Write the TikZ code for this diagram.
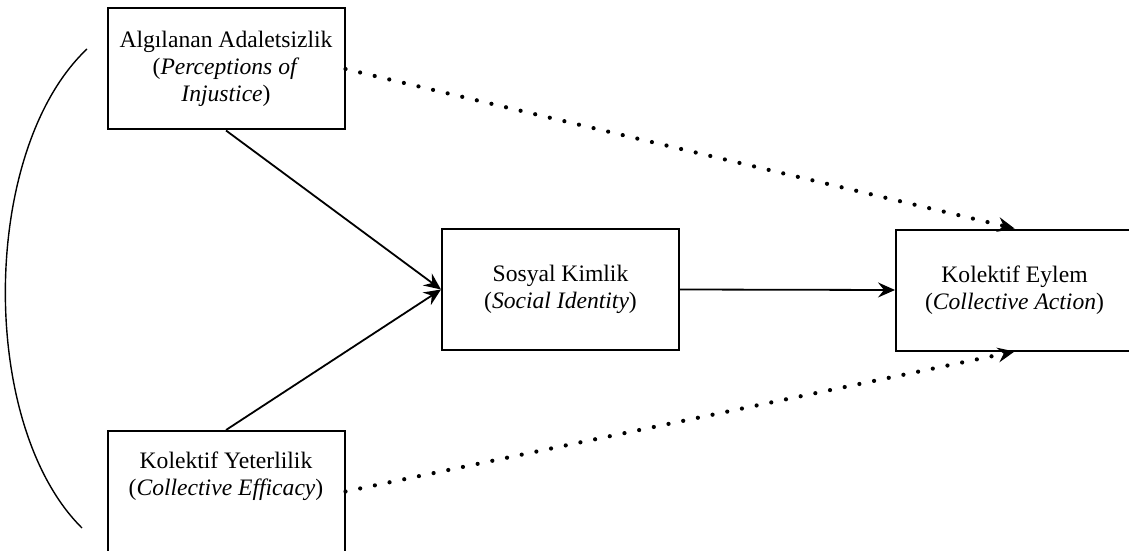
\documentclass[tikz,border=0pt]{standalone}
\usepackage{fontspec}
\setmainfont{Liberation Serif}
\usepackage{tikz}
\usetikzlibrary{positioning}
\usetikzlibrary{arrows.meta}

\tikzset{
  box/.style={draw, line width=1pt, minimum width=118.5pt, minimum height=60.5pt, inner sep=0pt},
  boxtext/.style={align=center, font=\fontsize{11.8}{13.5}\selectfont},
  link/.style={draw, line width=0.9pt, -{Stealth[length=8.5pt,width=7.5pt,inset=3pt]}},
  dotlink/.style={draw, line width=2.1pt, line cap=round, dash pattern=on 0pt off 7.5pt,
    -{Stealth[length=8.5pt,width=7.5pt,inset=3pt,line width=0.5pt]}},
}

\begin{document}
\begin{tikzpicture}[x=0.5pt, y=-0.5pt]
 \useasboundingbox (0,0) rectangle (1129,551);

 %boxes
 \node[box, boxtext] (adalet) at (226,69) {Algılanan Adaletsizlik\\(\textit{Perceptions of}\\\textit{Injustice})};
 \node[box, boxtext] (kimlik) at (560.5,289.5) {Sosyal Kimlik\\(\textit{Social Identity})};
 \node[box, boxtext] (eylem) at (1014.5,290) {Kolektif Eylem\\(\textit{Collective Action})};
 \node[box] (yeter) at (226,491.5) {};
 \node[boxtext] (yetertxt) at (226,476) {Kolektif Yeterlilik\\(\textit{Collective Efficacy})};

 %lines
 \path[link] (adalet.south) -- (kimlik.west);
 \path[link] (yeter.north) -- (kimlik.west);
 \path[link] (kimlik.east) -- (eylem.west);

 %dotted
 \path[dotlink] (adalet.east) -- (eylem.north);
 \path[dotlink] (yeter.east) -- (eylem.south);

 %bracket
 \coordinate (ktop) at (87,49);
 \coordinate (kbot) at (82,528);
 \draw[line width=0.7pt] (ktop) .. controls (-20,150) and (-22,425) .. (kbot);
\end{tikzpicture}
\end{document}
